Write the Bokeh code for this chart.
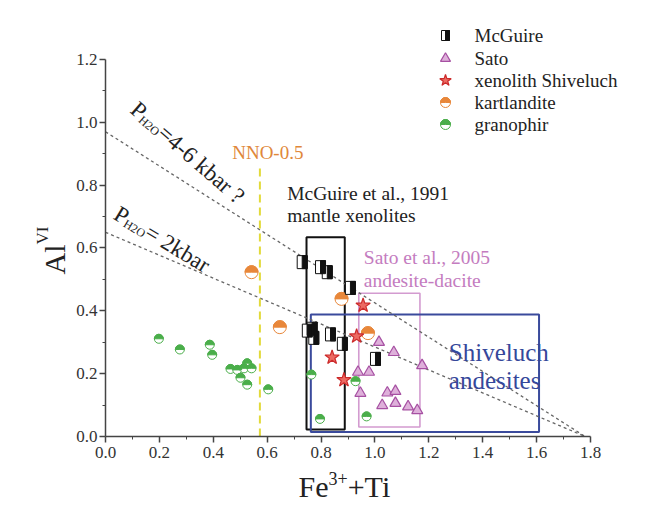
import numpy as np
from bokeh.plotting import figure
from bokeh.models import Range1d, FixedTicker, Label, ColumnDataSource, PrintfTickFormatter
from bokeh.transform import dodge
from bokeh.embed import file_html
from bokeh.resources import INLINE

# ---------------- data ----------------
mcguire_x = [0.730, 0.798, 0.823, 0.909, 0.749, 0.767, 0.773, 0.835, 0.879, 1.002]
mcguire_y = [0.555, 0.539, 0.523, 0.473, 0.337, 0.343, 0.314, 0.325, 0.295, 0.247]

sato_x = [1.015, 1.070, 1.175, 0.937, 0.978, 0.946, 1.046, 1.076, 1.076, 1.027, 1.123, 1.157]
sato_y = [0.300, 0.268, 0.226, 0.205, 0.205, 0.138, 0.139, 0.144, 0.106, 0.099, 0.095, 0.083]

star_x = [0.956, 0.932, 0.841, 0.885]
star_y = [0.417, 0.319, 0.252, 0.180]

kart_x = [0.542, 0.647, 0.876, 0.974]
kart_y = [0.523, 0.348, 0.438, 0.329]

gran_x = [0.198, 0.276, 0.387, 0.396, 0.464, 0.489, 0.526, 0.514, 0.542, 0.501, 0.526, 0.604,
          0.764, 0.796, 0.928, 0.969]
gran_y = [0.311, 0.277, 0.292, 0.260, 0.215, 0.212, 0.233, 0.217, 0.217, 0.187, 0.165, 0.150,
          0.197, 0.056, 0.176, 0.064]

# boxes: left, right, bottom, top
box_left = [0.746, 0.940, 0.762]
box_right = [0.888, 1.167, 1.609]
box_bottom = [0.022, 0.030, 0.014]
box_top = [0.634, 0.456, 0.388]
box_colors = ["#111111", "#d39bd0", "#3a4a9c"]

# pressure lines and NNO line
p46_x = [0.0, 1.78]
p46_y = [0.97, 0.0]
p2_x = [0.0, 1.78]
p2_y = [0.65, 0.0]
nno_x = [0.573, 0.573]
nno_y = [0.0, 0.855]

x_ticks = [0.0, 0.2, 0.4, 0.6, 0.8, 1.0, 1.2, 1.4, 1.6, 1.8]
x_minor = [0.1, 0.3, 0.5, 0.7, 0.9, 1.1, 1.3, 1.5, 1.7]
y_ticks = [0.0, 0.2, 0.4, 0.6, 0.8, 1.0, 1.2]
y_minor = [0.1, 0.3, 0.5, 0.7, 0.9, 1.1]

legend_labels = ["McGuire", "Sato", "xenolith Shiveluch", "kartlandite", "granophir"]

# ---------------- figure ----------------
FONT = "Liberation Serif"
W, H = 633, 508
OX, OY = 105, 436      # pixel position of the data origin
PXU = 269.45           # px per x unit
PYU = 314.17           # px per y unit


def dx(px):
    return (px - OX) / PXU


def dy(py):
    return (OY - py) / PYU


p = figure(width=W, height=H, x_range=Range1d(dx(0), dx(W)), y_range=Range1d(dy(H), dy(0)),
           output_backend="svg", toolbar_location=None,
           min_border_left=0, min_border_right=0, min_border_top=0, min_border_bottom=0)
p.title.visible = False
p.outline_line_color = None
p.xgrid.visible = False
p.ygrid.visible = False
p.background_fill_color = "white"
p.border_fill_color = "white"

for ax, t, m, b in [(p.xaxis[0], x_ticks, x_minor, (0, 1.8)), (p.yaxis[0], y_ticks, y_minor, (0, 1.2))]:
    ax.fixed_location = 0
    ax.ticker = FixedTicker(ticks=t, minor_ticks=m)
    ax.bounds = b
    ax.formatter = PrintfTickFormatter(format="%.1f")
    ax.major_label_text_font = FONT
    ax.major_label_text_font_size = "17px"
    ax.major_label_text_color = "#333333"
    ax.axis_line_color = "#444444"
    ax.axis_line_width = 1.5
    ax.major_tick_line_color = "#444444"
    ax.minor_tick_line_color = "#444444"
    ax.major_tick_line_width = 1.5
    ax.major_tick_out = 6
    ax.major_tick_in = 0
    ax.minor_tick_out = 3
    ax.minor_tick_in = 0
p.xaxis.major_label_standoff = 4
p.yaxis.major_label_standoff = 2

# boxes
p.quad(left=box_left, right=box_right, bottom=box_bottom, top=box_top,
       fill_color=None, line_color=box_colors, line_width=[2, 1.6, 2])

# dashed lines
p.line(p46_x, p46_y, line_color="#666666", line_width=1.3, line_dash="3 3")
p.line(p2_x, p2_y, line_color="#666666", line_width=1.3, line_dash="3 3")
p.line(nno_x, nno_y, line_color="#e2da3a", line_width=2, line_dash="8 5")


def draw_mcguire(xs, ys, w=10, h=13):
    src = ColumnDataSource(dict(x=xs, y=ys))
    p.rect(x="x", y="y", width=w, height=h, width_units="screen", height_units="screen",
           fill_color="white", line_color="#111111", line_width=1, source=src)
    p.rect(x=dodge("x", w / 4 / PXU), y="y", width=w / 2, height=h, width_units="screen",
           height_units="screen", fill_color="#111111", line_color="#111111", line_width=1, source=src)


def draw_half_circle(xs, ys, color, size):
    src = ColumnDataSource(dict(x=xs, y=ys))
    p.scatter(x="x", y="y", marker="circle", size=size, fill_color="white",
              line_color=color, line_width=1, source=src)
    p.wedge(x="x", y="y", radius=size / 2, radius_units="screen", start_angle=0, end_angle=np.pi,
            fill_color=color, line_color=color, line_width=1, source=src)


def draw_sato(xs, ys, size=11):
    p.scatter(xs, ys, marker="triangle", size=size, fill_color="#deb0da", line_color="#a650a2", line_width=1.2)


def draw_star(xs, ys, size=15):
    p.scatter(xs, ys, marker="star", size=size, fill_color="#ec6a62", line_color="#cc2a2a", line_width=1.2)


draw_half_circle(gran_x, gran_y, "#4aae4a", 9)
draw_half_circle(kart_x, kart_y, "#e8873a", 13)
draw_sato(sato_x, sato_y)
draw_mcguire(mcguire_x, mcguire_y)
draw_star(star_x, star_y)

# ---------------- legend (manual) ----------------
LEG_X = dx(445)
LEG_TX = dx(474)
leg_rows_px = [35, 58, 80, 102, 124]
leg_y = [dy(r) for r in leg_rows_px]
draw_mcguire([LEG_X], [leg_y[0]], 8, 10)
draw_sato([LEG_X], [leg_y[1]], 10)
draw_star([LEG_X], [leg_y[2]], 12)
draw_half_circle([LEG_X], [leg_y[3]], "#e8873a", 10)
draw_half_circle([LEG_X], [leg_y[4]], "#4aae4a", 10)
for lab_, yy in zip(legend_labels, leg_y):
    p.add_layout(Label(x=LEG_TX, y=yy, text=lab_, text_font=FONT, text_font_size="19px",
                       text_color="#222222", text_baseline="middle", text_align="left"))


def lab(x, y, text, size, color="#222222", angle=0.0, xo=0.0, yo=0.0, baseline="alphabetic"):
    p.add_layout(Label(x=x, y=y, text=text, text_font=FONT, text_font_size=f"{size}px",
                       text_color=color, angle=angle, x_offset=xo, y_offset=yo,
                       text_align="left", text_baseline=baseline))


# annotations
lab(dx(286.7), dy(192.7), "McGuire et al., 1991", 19.5)
lab(dx(286.7), dy(215), "mantle xenolites", 19.5)
lab(dx(363.3), dy(257.3), "Sato et al., 2005", 19.5, "#c47cc0")
lab(dx(363.3), dy(280), "andesite-dacite", 19.5, "#c47cc0")
lab(dx(448.3), dy(351.7), "Shiveluch", 25, "#35479a")
lab(dx(448.3), dy(380), "andesites", 25, "#35479a")
lab(dx(231.7), dy(151.7), "NNO-0.5", 19, "#e0873a")


def rotated_p(x, y, deg, rest):
    th = np.deg2rad(deg)
    c, s = np.cos(th), np.sin(th)
    ux, uy = -s, c  # "up" perpendicular
    big, small = 23, 12
    d1 = 0.556 * big
    d2 = d1 + 1.944 * small
    lab(x, y, "P", big, "#222222", th)
    lab(x, y, "H2O", small, "#222222", th, d1 * c - 5 * ux, d1 * s - 5 * uy)
    lab(x, y, rest, big, "#222222", th, d2 * c, d2 * s)


rotated_p(dx(133.5), dy(105.5), -41, "=4-6 kbar ?")
rotated_p(dx(115.6), dy(211.2), -31, " = 2kbar")

# axis titles (middle-anchored; centre of the 30px text sits ~10px above its baseline)
fe_x, fe_y = dx(298), dy(486)
lab(fe_x, fe_y, "Fe", 30, baseline="middle")
lab(fe_x, fe_y, "3+", 18, "#222222", 0, 30, 8, baseline="middle")
lab(fe_x, fe_y, "+Ti", 30, "#222222", 0, 49.2, 0, baseline="middle")

al_x, al_y = dx(54), dy(274)
lab(al_x, al_y, "Al", 30, "#222222", np.pi / 2)
lab(al_x, al_y, "VI", 17, "#222222", np.pi / 2, -12, 30)

open("out.html", "w").write(file_html(p, INLINE))
